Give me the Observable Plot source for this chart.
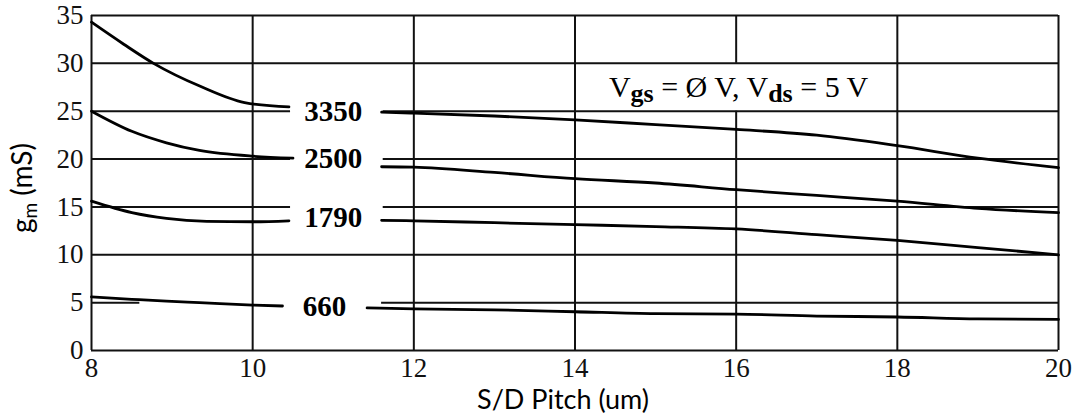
<!DOCTYPE html>
<html><head><meta charset="utf-8">
<script src="https://cdn.jsdelivr.net/npm/d3@7"></script>
<script src="https://cdn.jsdelivr.net/npm/@observablehq/plot@0.6"></script>
<style>
body{margin:0;background:#fff;}
</style>
</head><body><div id="chart"></div>
<script>
// ---- data ----
const xTicks = [8, 10, 12, 14, 16, 18, 20];
const yTicks = [0, 5, 10, 15, 20, 25, 30, 35];

const x3350Left  = [8, 8.4, 8.77, 9.35, 9.9, 10.45];
const gm3350Left = [34.3, 32.0, 30.0, 27.6, 25.9, 25.45];
const x3350Right  = [11.6, 12, 13, 14, 15, 16, 17, 18, 19, 20];
const gm3350Right = [24.9, 24.8, 24.5, 24.1, 23.6, 23.1, 22.5, 21.4, 20.1, 19.1];

const x2500Left  = [8, 8.5, 8.93, 9.34, 10, 10.5];
const gm2500Left = [25.0, 22.9, 21.7, 20.9, 20.3, 20.1];
const x2500Right  = [11.6, 12, 13, 14, 15, 16, 17, 18, 19, 20];
const gm2500Right = [19.2, 19.15, 18.6, 17.95, 17.5, 16.8, 16.2, 15.6, 14.85, 14.4];

const x1790Left  = [8, 8.5, 8.93, 9.43, 10, 10.45];
const gm1790Left = [15.6, 14.4, 13.8, 13.5, 13.45, 13.55];
const x1790Right  = [11.6, 12, 13, 14, 15, 16, 17, 18, 19, 20];
const gm1790Right = [13.6, 13.55, 13.35, 13.15, 12.95, 12.7, 12.1, 11.5, 10.75, 10.0];

const x660Left  = [8, 8.5, 8.93, 9.34, 10, 10.37];
const gm660Left = [5.6, 5.35, 5.15, 5.0, 4.75, 4.65];
const x660Right  = [11.42, 12, 13, 14, 15, 16, 17, 18, 19, 20];
const gm660Right = [4.45, 4.35, 4.25, 4.05, 3.85, 3.8, 3.6, 3.5, 3.3, 3.25];

const curveLabels = ["3350", "2500", "1790", "660"];
const labelX = [11.0, 11.0, 11.0, 10.89];
const labelY = [24.9, 20.0, 13.9, 4.6];

const fullGrid = [0, 10, 30, 35];
const splitGrid = [15, 20, 25];
const gridLeftEnd = 10.47, gridRightStart = 11.62;
const grid5Left = [8, 8.6], grid5Right = [11.6, 20];
const vGrid = [8, 10, 12, 14, 18, 20];
const vGrid16Low = [0, 25], vGrid16High = [30, 35];

const annotation = "Vgs = Ø V, Vds = 5 V";
const annotX = 16.03, annotY = 26.5;
const xLabel = "S/D Pitch (um)";
const yLabel = "gm (mS)";

// ---- build tables ----
function seg(name, part, xs, ys) { return xs.map((x, i) => ({series: name, seg: name + part, x, gm: ys[i]})); }
const lines = [
  ...seg("3350", "L", x3350Left, gm3350Left), ...seg("3350", "R", x3350Right, gm3350Right),
  ...seg("2500", "L", x2500Left, gm2500Left), ...seg("2500", "R", x2500Right, gm2500Right),
  ...seg("1790", "L", x1790Left, gm1790Left), ...seg("1790", "R", x1790Right, gm1790Right),
  ...seg("660", "L", x660Left, gm660Left), ...seg("660", "R", x660Right, gm660Right)
];
const hRules = [
  ...fullGrid.map(y => ({y, x1: 8, x2: 20})),
  ...splitGrid.flatMap(y => [{y, x1: 8, x2: gridLeftEnd}, {y, x1: gridRightStart, x2: 20}]),
  {y: 5, x1: grid5Left[0], x2: grid5Left[1]}, {y: 5, x1: grid5Right[0], x2: grid5Right[1]}
];
const vRules = [
  ...vGrid.map(x => ({x, y1: 0, y2: 35})),
  {x: 16, y1: vGrid16Low[0], y2: vGrid16Low[1]}, {x: 16, y1: vGrid16High[0], y2: vGrid16High[1]}
];
const labels = curveLabels.map((t, i) => ({t, x: labelX[i], y: labelY[i]}));

const serif = "'Liberation Serif', 'DejaVu Serif', serif";
const sans = "Lato, 'Open Sans', sans-serif";

const chart = Plot.plot({
  width: 1075, height: 415,
  marginLeft: 91, marginRight: 17, marginTop: 15, marginBottom: 65,
  x: {domain: [8, 20]},
  y: {domain: [0, 35]},
  style: {fontFamily: serif, fontSize: "26px", color: "#111", background: "#fff"},
  marks: [
    Plot.ruleY(hRules, {y: "y", x1: "x1", x2: "x2", stroke: "#111", strokeWidth: 2}),
    Plot.ruleX(vRules, {x: "x", y1: "y1", y2: "y2", stroke: "#111", strokeWidth: 2}),
    Plot.line(lines, {x: "x", y: "gm", z: "seg", curve: "monotone-x", stroke: "#000", strokeWidth: 2.8}),
    Plot.axisX(xTicks, {tickSize: 0, tickPadding: 7, label: null, fontSize: 27}),
    Plot.axisY(yTicks, {tickSize: 0, tickPadding: 8, label: null, fontSize: 27}),
    Plot.text(labels, {x: "x", y: "y", text: "t", fontSize: 29, fontWeight: "bold", fontFamily: serif,
      textAnchor: "middle", lineAnchor: "middle", fill: "#000"}),
    Plot.text([annotation], {x: () => annotX, y: () => annotY, text: d => d, fontSize: 30, fontFamily: serif,
      textAnchor: "middle", lineAnchor: "bottom", fill: "#000"}),
    Plot.text([xLabel], {frameAnchor: "bottom", dy: 50, dx: -12, text: d => d, fontSize: 27, fontFamily: sans,
      textAnchor: "middle", lineAnchor: "middle", fill: "#000"}),
    Plot.text([yLabel], {frameAnchor: "left", dx: -68, dy: 5, rotate: -90, text: d => d, fontSize: 28, fontFamily: sans,
      textAnchor: "middle", lineAnchor: "middle", fill: "#000"})
  ]
});
document.getElementById("chart").appendChild(chart);

// subscripts: find the rendered text elements by their content
const allText = d3.select(chart).selectAll("text");
allText.filter(function() { return this.textContent === annotation; })
  .html('V<tspan font-size="26" font-weight="bold" dy="5">gs</tspan><tspan dy="-5"> = Ø V, V</tspan><tspan font-size="26" font-weight="bold" dy="5">ds</tspan><tspan dy="-5"> = 5 V</tspan>');
allText.filter(function() { return this.textContent === yLabel; })
  .html('g<tspan font-size="19" dy="5">m</tspan><tspan dy="-5"> (mS)</tspan>');
</script></body></html>
